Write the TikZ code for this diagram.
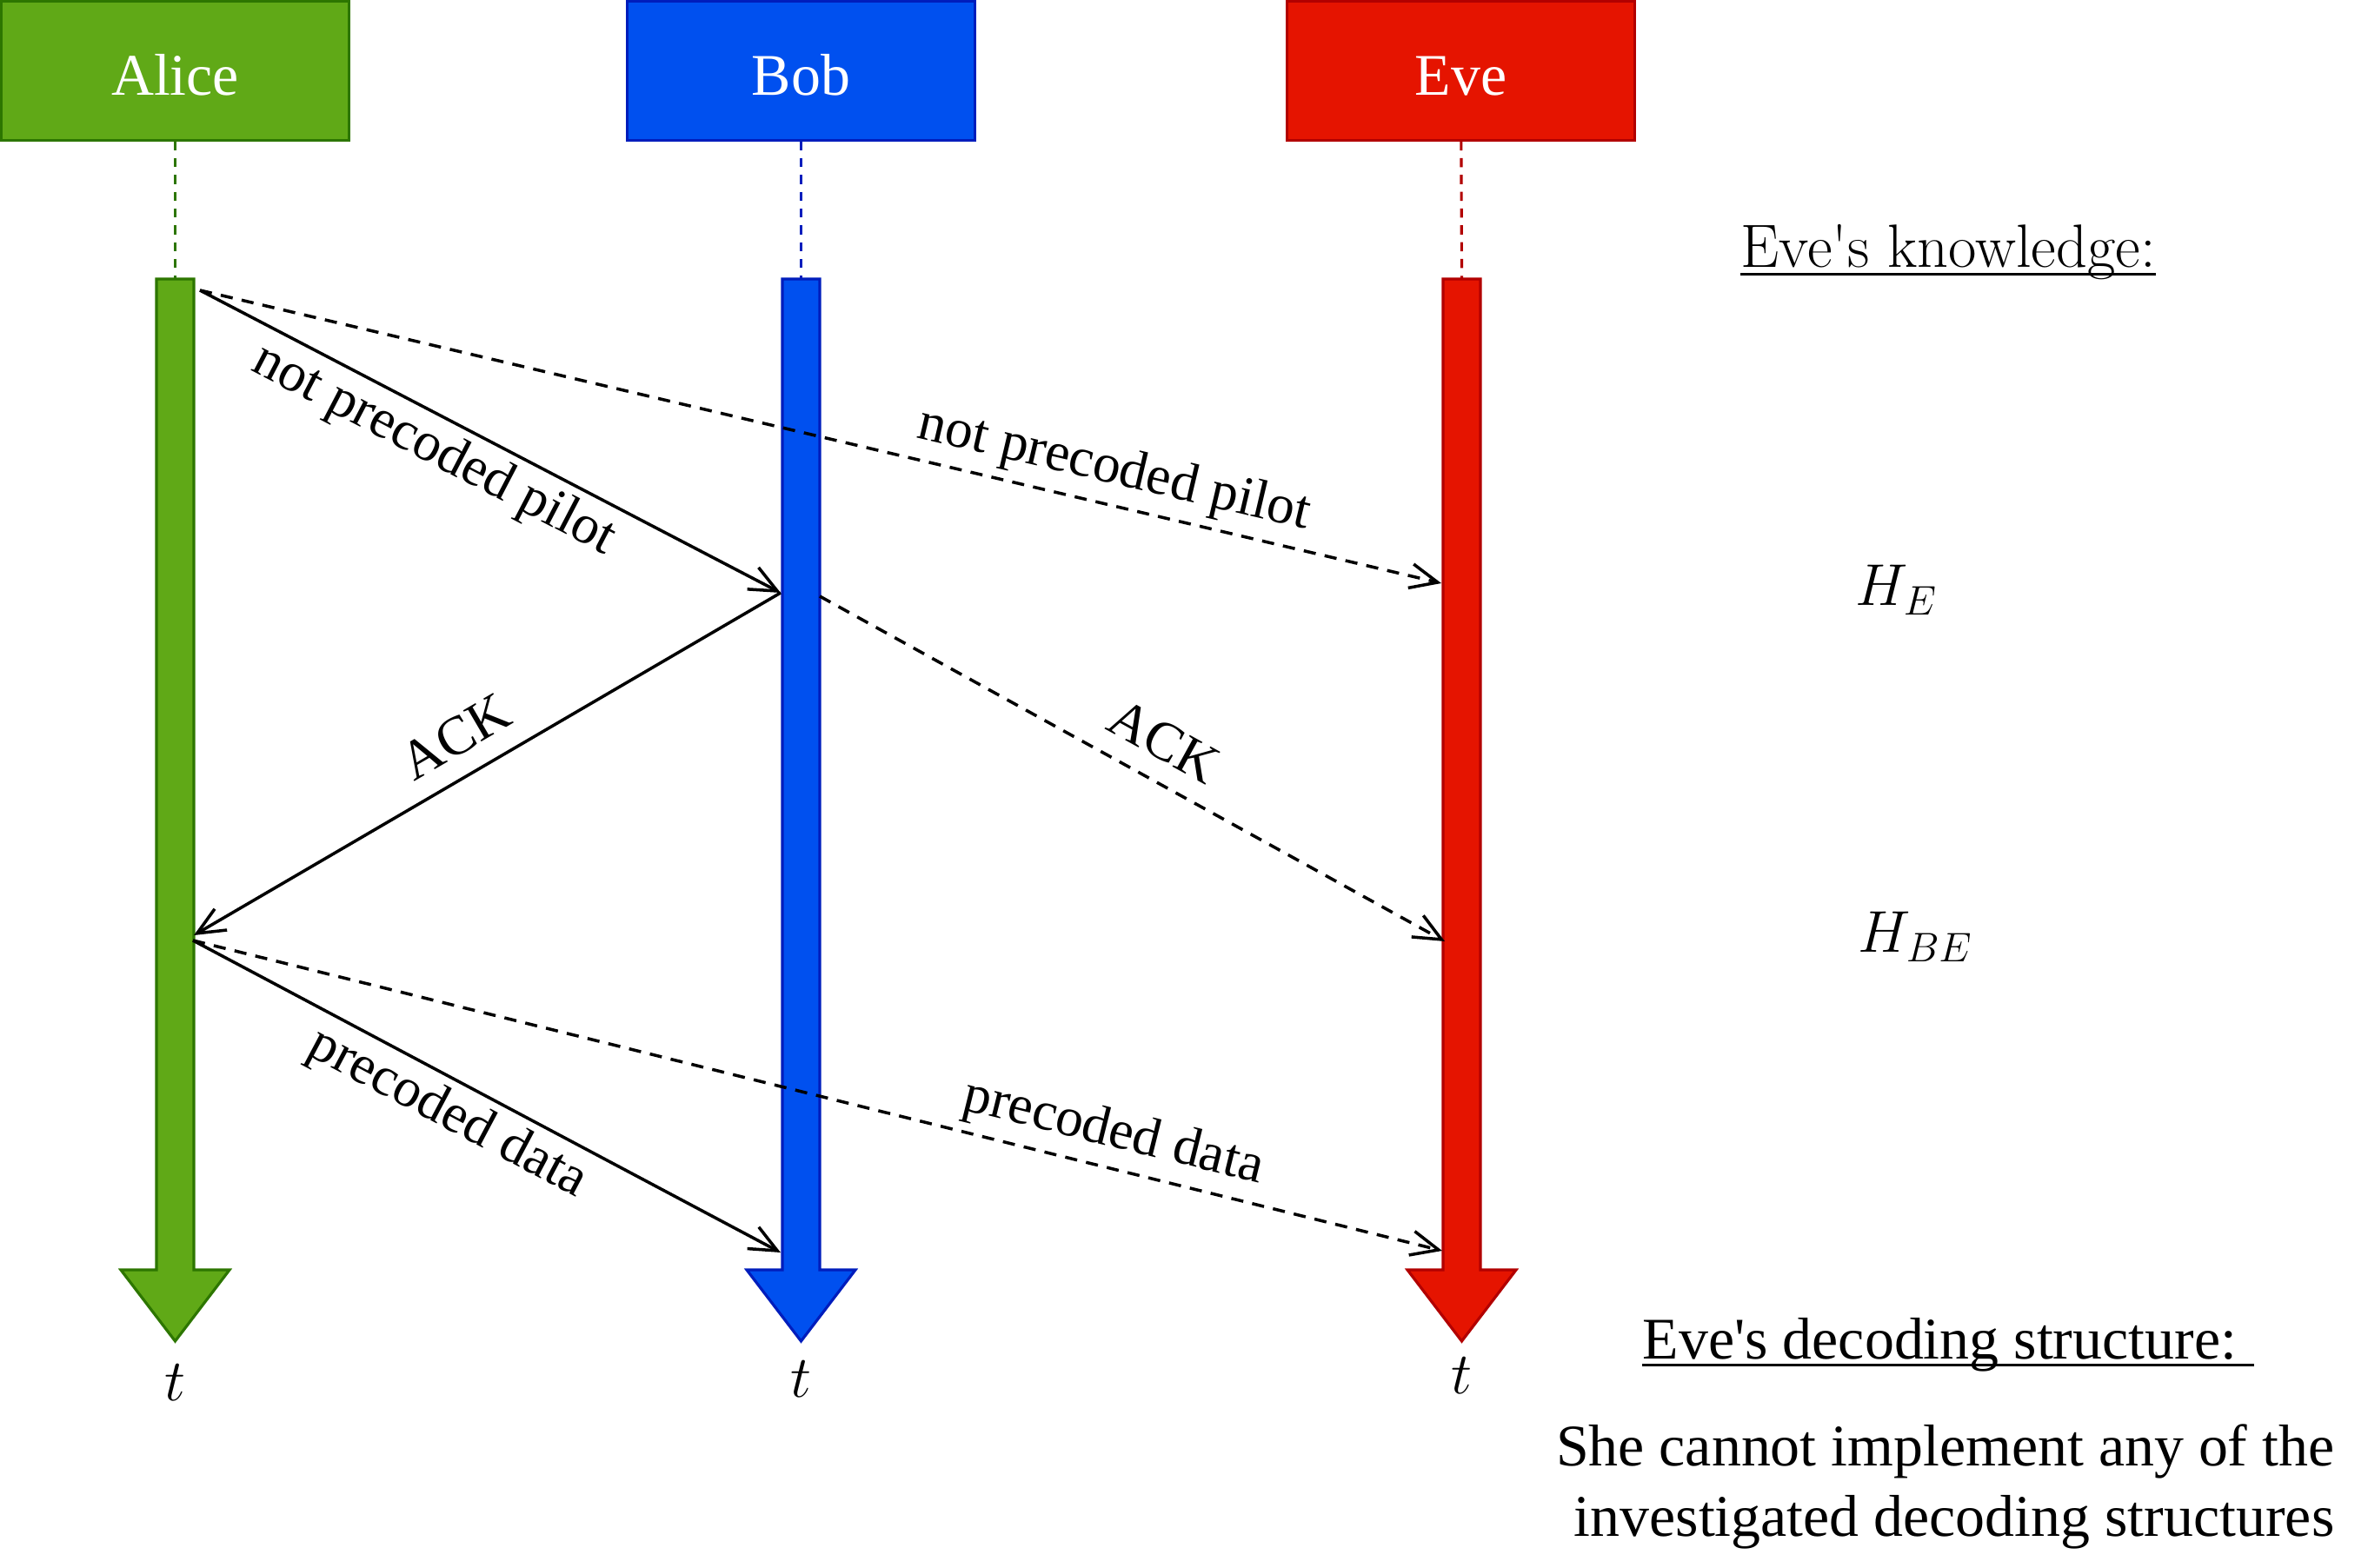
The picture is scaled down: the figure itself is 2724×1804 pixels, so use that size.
\RequirePackage{fix-cm}
\documentclass[tikz,border=0pt]{standalone}
\usepackage{fontspec}
\setmainfont{Liberation Serif}
\newfontfamily\lmfont{Latin Modern Roman}
\usetikzlibrary{arrows.meta}

\definecolor{alicefill}{HTML}{60A917}
\definecolor{alicedraw}{HTML}{2D7600}
\definecolor{bobfill}{HTML}{0050EF}
\definecolor{bobdraw}{HTML}{001DBC}
\definecolor{evefill}{HTML}{E51400}
\definecolor{evedraw}{HTML}{B20000}

\begin{document}
\begin{tikzpicture}[x=0.01cm, y=-0.01cm,
    every node/.style={font=\fontsize{19.3}{23}\selectfont},
    >={Straight Barb[length=9pt,width=8pt]},
    actor/.style={draw, line width=0.85pt, minimum width=4cm, minimum height=1.59cm,
        text=white, text height=16pt, text depth=0pt},
    life/.style={line width=0.9pt, dash pattern=on 3pt off 2.5pt},
    timebar/.style={line width=0.9pt, line join=miter},
    msg/.style={black, line width=1pt},
    tap/.style={msg, dash pattern=on 4pt off 3pt},
    lbl/.style={sloped, inner sep=2.5pt, text height=12.5pt, text depth=4pt,
        font=\fontsize{18}{21.6}\selectfont},
    txt/.style={inner sep=0pt}]
    \useasboundingbox (0,0) rectangle (2724,1804);

    % actors
    \node[actor, fill=alicefill, draw=alicedraw] (alice) at (201.5,81.5) {Alice};
    \node[actor, fill=bobfill, draw=bobdraw] (bob) at (921.5,81.5) {Bob};
    \node[actor, fill=evefill, draw=evedraw] (eve) at (1680.5,81.5) {Eve};

    \coordinate (atop) at (201.5,321);
    \coordinate (btop) at (921.5,321);
    \coordinate (etop) at (1681.5,321);

    \path[life, color=alicedraw] (alice) edge (atop);
    \path[life, color=bobdraw] (bob) edge (btop);
    \path[life, color=evedraw] (eve) edge (etop);

    % time axes
    \draw[timebar, fill=alicefill, draw=alicedraw] (atop) ++(-21.5,0) -- ++(43,0) -- ++(0,1140)
        -- ++(41,0) -- ++(-62.5,82) -- ++(-62.5,-82) -- ++(41,0) -- cycle;
    \draw[timebar, fill=bobfill, draw=bobdraw] (btop) ++(-21.5,0) -- ++(43,0) -- ++(0,1140)
        -- ++(41,0) -- ++(-62.5,82) -- ++(-62.5,-82) -- ++(41,0) -- cycle;
    \draw[timebar, fill=evefill, draw=evedraw] (etop) ++(-21.5,0) -- ++(43,0) -- ++(0,1140)
        -- ++(41,0) -- ++(-62.5,82) -- ++(-62.5,-82) -- ++(41,0) -- cycle;

    \node[txt] (ta) at (201.5,1591) {$t$};
    \node[txt] (tb) at (921.5,1587) {$t$};
    \node[txt] (te) at (1681.5,1583) {$t$};

    % message end points
    \coordinate (ap) at (230,334);
    \coordinate (bp) at (898,682);
    \coordinate (ep) at (1658,671);
    \coordinate (bs) at (943,686);
    \coordinate (aa) at (223,1076);
    \coordinate (ea) at (1662,1083);
    \coordinate (ad) at (222,1082);
    \coordinate (bd) at (898,1441);
    \coordinate (ed) at (1659,1439);

    \path[msg, ->] (ap) edge node[lbl, below, pos=0.43] {not precoded pilot} (bp);
    \path[tap, ->] (ap) edge node[lbl, above, pos=0.73] {not precoded pilot} (ep);
    \path[msg, <-] (aa) edge node[lbl, above, pos=0.48] {ACK} (bp);
    \path[tap, ->] (bs) edge node[lbl, above, pos=0.52] {ACK} (ea);
    \path[msg, ->] (ad) edge node[lbl, below, pos=0.46] {precoded data} (bd);
    \path[tap, ->] (ad) edge node[lbl, above, pos=0.73] {precoded data} (ed);

    % Eve's side
    \node[txt, anchor=base, font=\lmfont\fontsize{20}{24}\selectfont] (know) at (2241,308)
        {Eve\textquotesingle s knowledge:};
    \draw[line width=0.9pt] ([yshift=-2.2pt]know.base west) -- ([yshift=-2.2pt]know.base east);
    \node[txt, anchor=base west] (he) at (2134,697) {$H_E$};
    \node[txt, anchor=base west] (hbe) at (2137,1096) {$H_{BE}$};

    \node[txt, anchor=base] (deco) at (2241,1563) {Eve\textquotesingle s decoding structure:\kern5.5pt};
    \draw[line width=0.9pt] ([yshift=-2.2pt]deco.base west) -- ([yshift=-2.2pt]deco.base east);
    \node[txt, anchor=base east, align=right] (cannot) at (2686,1767)
        {She cannot implement any of the\\investigated decoding structures};
\end{tikzpicture}
\end{document}
